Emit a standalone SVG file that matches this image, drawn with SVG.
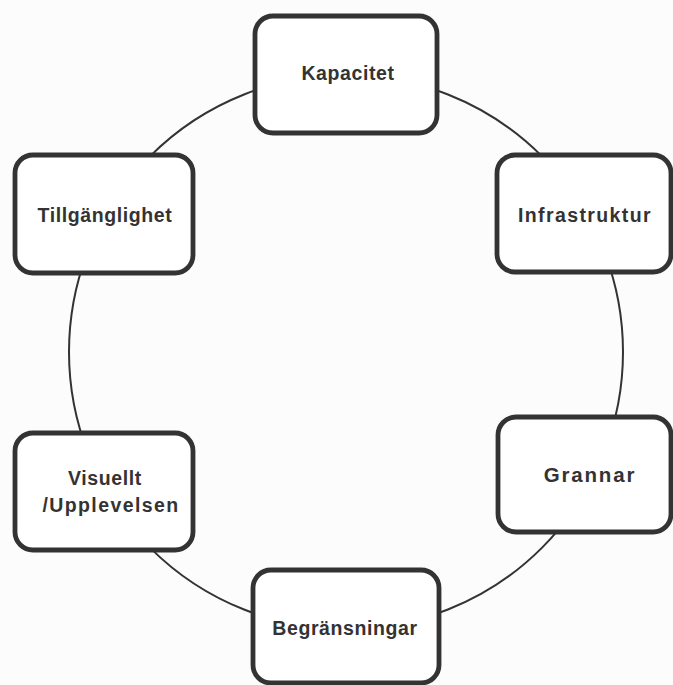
<svg xmlns="http://www.w3.org/2000/svg" width="673" height="685" viewBox="0 0 673 685">
  <style>
    .box { fill: #ffffff; stroke: #333333; stroke-width: 4.8; }
    .conn { fill: none; stroke: #333333; stroke-width: 2; }
    .lbl { font-family: "Liberation Sans", Arial, sans-serif; font-weight: bold; font-size: 19.5px; fill: #333333; text-anchor: middle; letter-spacing: 0.6px; }
    .wide { letter-spacing: 1.4px; }
    .wider { letter-spacing: 1.8px; font-size: 20.5px; }
  </style>
  <rect x="0" y="0" width="673" height="685" fill="#fcfcfc"/>
  <g id="connectors">
    <circle class="conn" cx="346" cy="352" r="277"/>
  </g>
  <g id="kapacitet">
    <rect class="box" x="255" y="16" width="182" height="117" rx="18" ry="18"/>
    <text class="lbl" x="348" y="80">Kapacitet</text>
  </g>
  <g id="tillganglighet">
    <rect class="box" x="15" y="155" width="178" height="118" rx="18" ry="18"/>
    <text class="lbl" x="105" y="222">Tillgänglighet</text>
  </g>
  <g id="infrastruktur">
    <rect class="box" x="497" y="155" width="174" height="117" rx="18" ry="18"/>
    <text class="lbl wide" x="585" y="222">Infrastruktur</text>
  </g>
  <g id="visuellt">
    <rect class="box" x="15" y="433" width="178" height="117" rx="18" ry="18"/>
    <text class="lbl" x="105" y="485">Visuellt</text>
    <text class="lbl wide" x="111" y="512">/Upplevelsen</text>
  </g>
  <g id="grannar">
    <rect class="box" x="498" y="417" width="173" height="115" rx="18" ry="18"/>
    <text class="lbl wider" x="590" y="482">Grannar</text>
  </g>
  <g id="begransningar">
    <rect class="box" x="253" y="570" width="186" height="113" rx="18" ry="18"/>
    <text class="lbl" x="345" y="635">Begränsningar</text>
  </g>
</svg>
